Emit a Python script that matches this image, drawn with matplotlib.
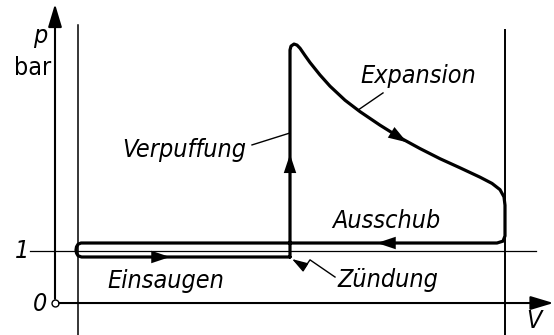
import matplotlib.pyplot as plt
from matplotlib import font_manager as fm

# look for a narrow face (Liberation Sans Narrow / DejaVu Sans Condensed)
files = [f.fname for f in fm.fontManager.ttflist]
narrow = [f for f in files if 'Narrow' in f or 'Condensed' in f]
ital = [f for f in narrow if ('Italic' in f or 'Oblique' in f) and 'Bold' not in f]
upright = [f for f in narrow if 'Italic' not in f and 'Oblique' not in f and 'Bold' not in f]
if ital and upright:
    font_it = dict(fontproperties=fm.FontProperties(fname=sorted(ital)[0], size=18))
    font_up = dict(fontproperties=fm.FontProperties(fname=sorted(upright)[0], size=18))
else:
    font_it = dict(family='DejaVu Sans', style='italic', fontsize=15)
    font_up = dict(family='DejaVu Sans', fontsize=15)

# p-V diagram of the four-stroke cycle (schematic), V in arbitrary units, p in bar
V_tdc = 0.46      # compression volume
V_bdc = 9.0       # end of stroke

# working cycle: ignition -> Verpuffung -> Expansion -> Ausschub -> Einsaugen
cycle_V = [4.70, 4.70, 4.72, 4.78, 4.84, 4.90, 5.00, 5.10, 5.30, 5.50, 5.80,
           6.10, 6.50, 6.90, 7.30, 7.70, 8.10, 8.50, 8.74, 8.90, 8.98, 9.00,
           9.00, 8.96, 8.84,
           0.52, 0.46, 0.43, 0.42, 0.43, 0.46, 0.53, 4.70]
cycle_p = [0.885, 4.865, 4.94, 4.98, 4.96, 4.90, 4.76, 4.625, 4.385, 4.17, 3.90,
           3.68, 3.42, 3.18, 2.97, 2.775, 2.60, 2.42, 2.30, 2.18, 2.04, 1.88,
           1.29, 1.19, 1.154,
           1.154, 1.13, 1.08, 1.02, 0.96, 0.91, 0.885, 0.885]

# arrows along the cycle (tail, head)
arrows = [((1.90, 0.885), (2.30, 0.885)),   # Einsaugen
          ((4.70, 2.50), (4.70, 2.86)),     # Verpuffung
          ((6.66, 3.32), (7.04, 3.09)),     # Expansion
          ((6.86, 1.154), (6.44, 1.154))]   # Ausschub

labels = ["Expansion", "Verpuffung", "Ausschub", "Einsaugen", "Zündung"]
label_V = [6.10, 1.34, 5.54, 1.04, 5.64]
label_p = [4.23, 2.81, 1.44, 0.29, 0.31]

# leader lines
exp_lead_V, exp_lead_p = [6.06, 6.56], [3.71, 4.04]
verp_lead_V, verp_lead_p = [3.94, 4.70], [3.04, 3.27]
zuend_V, zuend_p = [5.60, 5.10, 5.00], [0.50, 0.83, 0.69]
zuend_tip = (4.74, 0.846)

fig = plt.figure(figsize=(5.54, 3.35), dpi=100)
ax = fig.add_axes([0, 0, 1, 1])
ax.set_xlim(-1.1, 9.98)
ax.set_ylim(-0.615, 5.827)
ax.axis('off')

# coordinate axes
ax.annotate('', xy=(0, 5.75), xytext=(0, 0),
            arrowprops=dict(arrowstyle='-|>,head_length=1.0,head_width=0.3',
                            mutation_scale=14, lw=1.5, color='k',
                            shrinkA=3, shrinkB=0))
ax.annotate('', xy=(9.97, 0), xytext=(0, 0),
            arrowprops=dict(arrowstyle='-|>,head_length=1.0,head_width=0.3',
                            mutation_scale=14, lw=1.5, color='k',
                            shrinkA=3, shrinkB=0))
ax.plot([0], [0], 'o', ms=5, mfc='white', mec='k', mew=1.0)

# dead-centre lines and 1 bar line
ax.plot([V_tdc, V_tdc], [-0.62, 5.35], color='k', lw=1.1)
ax.plot([V_bdc, V_bdc], [-0.62, 5.25], color='k', lw=1.4)
ax.plot([-0.5, 9.62], [1.0, 1.0], color='k', lw=0.9)

# cycle
ax.plot(cycle_V, cycle_p, color='k', lw=2.3, solid_joinstyle='round',
        solid_capstyle='round')
for tail, head in arrows:
    ax.annotate('', xy=head, xytext=tail,
                arrowprops=dict(arrowstyle='-|>,head_length=0.9,head_width=0.3',
                                mutation_scale=15, lw=0, color='k',
                                shrinkA=0, shrinkB=0))

# leaders
ax.plot(exp_lead_V, exp_lead_p, color='k', lw=1.0)
ax.plot(verp_lead_V, verp_lead_p, color='k', lw=1.0)
ax.plot(zuend_V, zuend_p, color='k', lw=1.0)
ax.annotate('', xy=zuend_tip, xytext=(zuend_V[-1], zuend_p[-1]),
            arrowprops=dict(arrowstyle='-|>,head_length=0.8,head_width=0.25',
                            mutation_scale=12, lw=1.0, color='k',
                            shrinkA=0, shrinkB=0))

for txt, v, p in zip(labels, label_V, label_p):
    ax.text(v, p, txt, ha='left', va='baseline', **font_it)

# axis labels
ax.text(-0.44, 5.13, 'p', ha='left', va='center', **font_it)
ax.text(-0.44, 4.52, 'bar', ha='center', va='center', **font_up)
ax.text(-0.66, 1.0, '1', ha='center', va='center', **font_it)
ax.text(-0.30, -0.02, '0', ha='center', va='center', **font_it)
ax.text(9.58, -0.34, 'V', ha='center', va='center', **font_it)

fig.savefig('out.png', dpi=100)
